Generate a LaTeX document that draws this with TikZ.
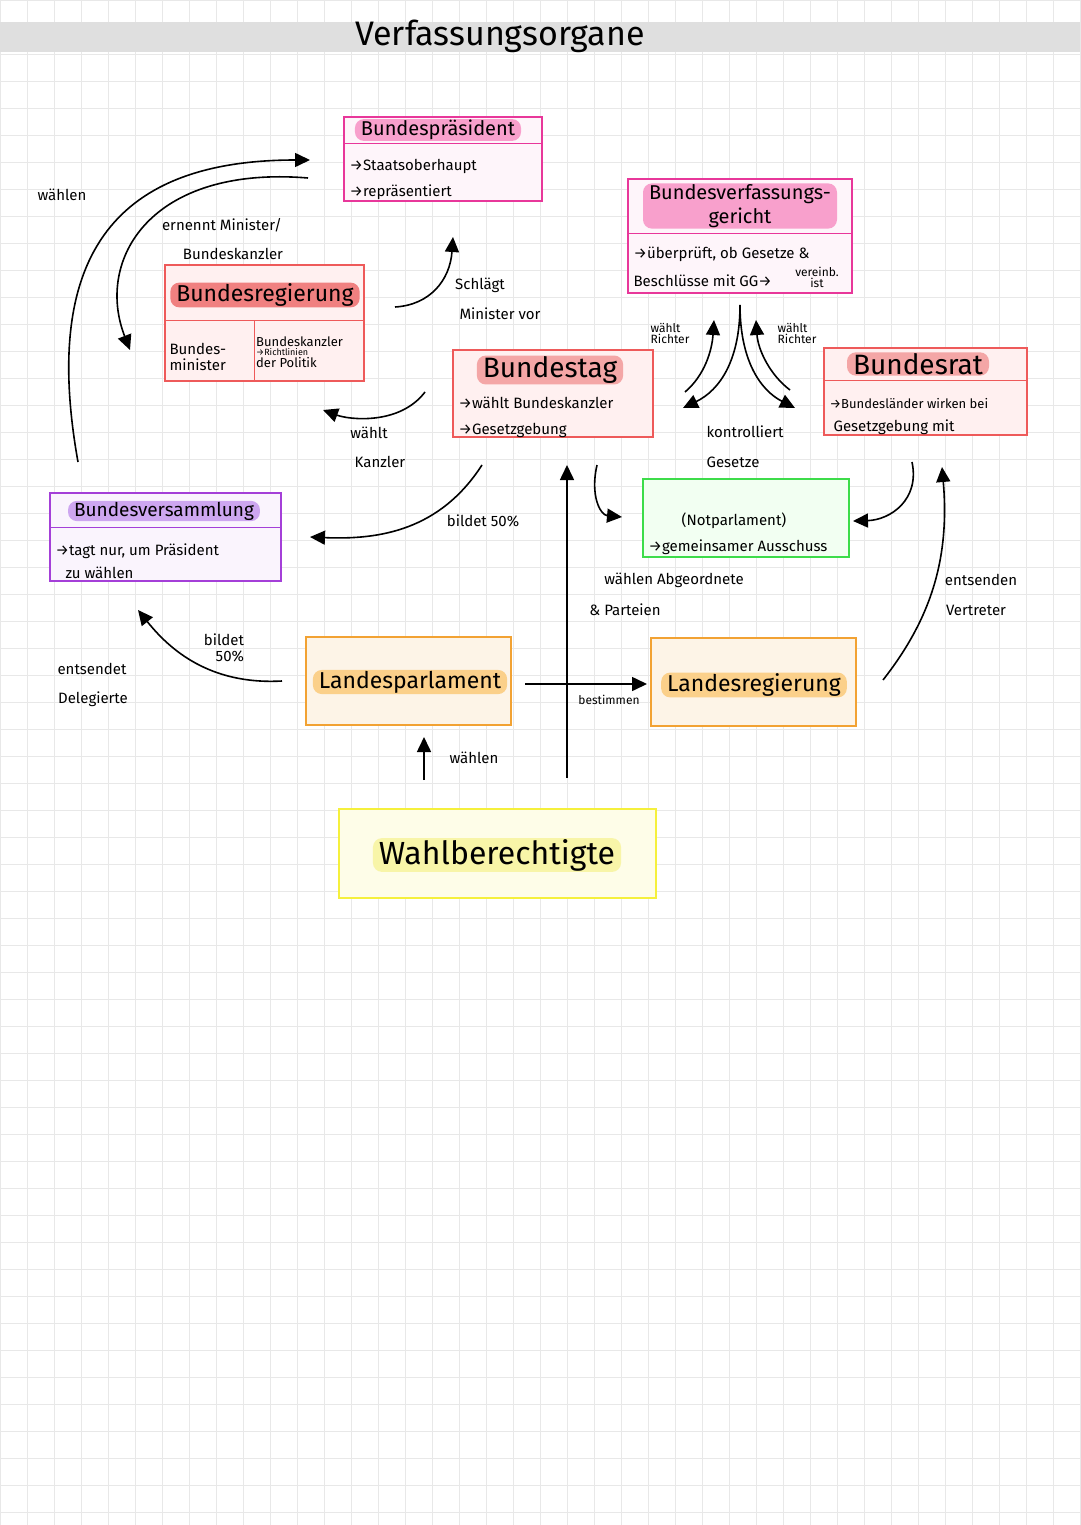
\documentclass[tikz,border=0pt]{standalone}
\usepackage{fontspec}
\setmainfont{Fira Sans}
\usetikzlibrary{arrows.meta}
\definecolor{mag}{HTML}{E8379A}
\definecolor{pinkhl}{HTML}{F8A0CC}
\definecolor{redb}{HTML}{EE5A5A}
\definecolor{redhl}{HTML}{F08080}
\definecolor{purb}{HTML}{A43FD8}
\definecolor{purhl}{HTML}{CDA6F0}
\definecolor{grb}{HTML}{3DDC4A}
\definecolor{orb}{HTML}{F2A233}
\definecolor{orhl}{HTML}{FBD08A}
\definecolor{yeb}{HTML}{F5F03C}
\definecolor{yehl}{HTML}{F8F5A8}
\begin{document}
\begin{tikzpicture}[x=1pt,y=-1pt,
  hd/.style={fill=#1,rounded corners=9pt,inner xsep=6pt,inner ysep=1pt,font=\fontsize{20}{20}\selectfont},
  t/.style={font=\fontsize{15}{16}\selectfont},
  ts/.style={font=\fontsize{12}{11}\selectfont},
  ar/.style={-{Triangle[length=15pt,width=14pt]},line width=1.6pt}]
\useasboundingbox (0,0) rectangle (1080,1525);
\fill[white] (0,0) rectangle (1080,1525);
\foreach \i in {0,...,40}{\draw[gray!18,line width=0.5pt] (\i*27,0) -- (\i*27,1525);}
\foreach \j in {0,...,57}{\draw[gray!18,line width=0.5pt] (0,\j*27) -- (1080,\j*27);}
\fill[gray!25] (0,22) rectangle (1080,52);
\node[font=\fontsize{34}{34}\selectfont] (title) at (500,36) {Verfassungsorgane};

% Bundespraesident
\fill[mag!5] (344,117) rectangle (542,201);
\draw[mag,line width=1.3pt] (344,117) rectangle (542,201); \draw[mag] (344,143)--(542,143);
\node[hd=pinkhl] (bp) at (438,130) {Bundespräsident};
\node[t,anchor=west] (bp1) at (346,166) {→Staatsoberhaupt};
\node[t,anchor=west] (bp2) at (346,192) {→repräsentiert};

% BVerfG
\fill[mag!5] (628,179) rectangle (852,293);
\draw[mag,line width=1.3pt] (628,179) rectangle (852,293); \draw[mag] (628,233)--(852,233);
\node[hd=pinkhl,align=center,font=\fontsize{20}{24}\selectfont] (bv) at (740,206) {Bundesverfassungs-\\gericht};
\node[t,anchor=west] (bv1) at (630,254) {→überprüft, ob Gesetze \&};
\node[t,anchor=west] (bv2) at (630,281) {Beschlüsse mit GG→};
\node[ts,align=center,inner sep=0pt] (bv3) at (817,277) {vereinb.\\ist};

% Bundesregierung
\fill[red!6] (165,265) rectangle (364,381);
\draw[redb,line width=1.3pt] (165,265) rectangle (364,381); \draw[redb] (165,320)--(364,320); \draw[redb] (254,320)--(254,381);
\node[hd=redhl,font=\fontsize{23}{23}\selectfont] (br) at (265,295) {Bundesregierung};
\node[t,align=left,anchor=west] (br1) at (166,357) {Bundes-\\minister};
\node[anchor=north west,inner sep=1pt,align=left,font=\fontsize{13}{10}\selectfont] (br2) at (255,336) {Bundeskanzler\\[-1pt]{\fontsize{9}{8}\selectfont →Richtlinien}\\der Politik};

% Bundestag
\fill[red!6] (453,350) rectangle (653,437);
\draw[redb,line width=1.3pt] (453,350) rectangle (653,437);
\node[hd=redhl!70,font=\fontsize{28}{28}\selectfont] (bt) at (550,370) {Bundestag};
\node[t,anchor=west] (bt1) at (455,403) {→wählt Bundeskanzler};
\node[t,anchor=west] (bt2) at (455,430) {→Gesetzgebung};

% Bundesrat
\fill[red!6] (824,348) rectangle (1027,435);
\draw[redb,line width=1.3pt] (824,348) rectangle (1027,435); \draw[redb] (824,380)--(1027,380);
\node[hd=redhl!70,font=\fontsize{28}{28}\selectfont] (brat) at (918,364) {Bundesrat};
\node[t,anchor=west,font=\fontsize{13}{14}\selectfont] (brat1) at (826,404) {→Bundesländer wirken bei};
\node[t,anchor=west] (brat2) at (830,427) {Gesetzgebung mit};

% Notparlament
\fill[green!5] (643,479) rectangle (849,557);
\draw[grb,line width=1.3pt] (643,479) rectangle (849,557);
\node[t] (np) at (734,521) {(Notparlament)};
\node[t,anchor=west] (np1) at (645,547) {→gemeinsamer Ausschuss};

% Bundesversammlung
\fill[purb!6] (50,493) rectangle (281,581);
\draw[purb,line width=1.3pt] (50,493) rectangle (281,581); \draw[purb] (50,527)--(281,527);
\node[hd=purhl,font=\fontsize{19}{19}\selectfont] (bvs) at (164,511) {Bundesversammlung};
\node[t,anchor=west] (bvs1) at (52,551) {→tagt nur, um Präsident};
\node[t,anchor=west] (bvs2) at (62,573) {zu wählen};

% Landesparlament / Landesregierung / Wahlberechtigte
\draw[orb,line width=1.3pt,fill=orb!12] (306,637) rectangle (511,725);
\node[hd=orhl,font=\fontsize{23}{23}\selectfont] (lp) at (410,682) {Landesparlament};
\draw[orb,line width=1.3pt,fill=orb!12] (651,638) rectangle (856,726);
\node[hd=orhl,font=\fontsize{23}{23}\selectfont] (lr) at (754,685) {Landesregierung};
\draw[yeb,line width=1.3pt,fill=yeb!12] (339,809) rectangle (656,898);
\node[hd=yehl,font=\fontsize{32}{32}\selectfont] (wb) at (497,855) {Wahlberechtigte};

% coordinates
\coordinate (a1) at (78,462); \coordinate (a2) at (310,160);
\coordinate (b1) at (308,178); \coordinate (b2) at (130,350);
\coordinate (c1) at (395,307); \coordinate (c2) at (453,237);
\coordinate (d1) at (425,392); \coordinate (d2) at (323,410);
\coordinate (e1) at (482,465); \coordinate (e2) at (310,537);
\coordinate (f1) at (597,465); \coordinate (f2) at (622,517);
\coordinate (g1) at (912,462); \coordinate (g2) at (853,521);
\coordinate (h1) at (883,680); \coordinate (h2) at (942,467);
\coordinate (i1) at (567,778); \coordinate (i2) at (567,465);
\coordinate (j1) at (525,684); \coordinate (j2) at (647,684);
\coordinate (k1) at (424,780); \coordinate (k2) at (424,737);
\coordinate (l1) at (282,681); \coordinate (l2) at (138,610);
\coordinate (m0) at (740,305); \coordinate (m1) at (683,408); \coordinate (m2) at (795,408);
\coordinate (n1) at (685,392); \coordinate (n2) at (714,320);
\coordinate (o1) at (790,390); \coordinate (o2) at (756,320);

\draw[ar] (a1) .. controls (40,250) and (120,160) .. (a2);
\draw[ar] (b1) .. controls (150,165) and (95,260) .. (b2);
\draw[ar] (c1) .. controls (430,305) and (450,280) .. (c2);
\draw[ar] (d1) .. controls (400,425) and (350,420) .. (d2);
\draw[ar] (e1) .. controls (440,530) and (380,540) .. (e2);
\draw[ar] (f1) .. controls (590,495) and (600,515) .. (f2);
\draw[ar] (g1) .. controls (920,500) and (890,520) .. (g2);
\draw[ar] (h1) .. controls (930,620) and (950,560) .. (h2);
\draw[ar] (i1) -- (i2);
\draw[ar] (j1) -- (j2);
\draw[ar] (k1) -- (k2);
\draw[ar] (l1) .. controls (210,685) and (170,650) .. (l2);
\draw[ar] (m0) .. controls (740,360) and (720,390) .. (m1);
\draw[ar] (m0) .. controls (740,360) and (760,390) .. (m2);
\draw[ar] (n1) .. controls (705,375) and (712,350) .. (n2);
\draw[ar] (o1) .. controls (770,375) and (758,350) .. (o2);

% labels
\node[t] (la) at (62,195) {wählen};
\node[t] (lb1) at (222,225) {ernennt Minister/};
\node[t] (lb2) at (233,254) {Bundeskanzler};
\node[t] (lc1) at (480,285) {Schlägt};
\node[t] (lc2) at (500,314) {Minister vor};
\node[t] (ld1) at (369,433) {wählt};
\node[t] (ld2) at (380,462) {Kanzler};
\node[t] (le) at (483,521) {bildet 50\%};
\node[t] (lh1) at (981,580) {entsenden};
\node[t] (lh2) at (976,610) {Vertreter};
\node[t] (li1) at (674,580) {wählen Abgeordnete};
\node[t] (li2) at (625,610) {\& Parteien};
\node[font=\fontsize{12}{12}\selectfont] (lj) at (609,700) {bestimmen};
\node[t] (lk) at (474,758) {wählen};
\node[t,align=right] (ll) at (224,648) {bildet\\50\%};
\node[t] (lm1) at (92,669) {entsendet};
\node[t] (lm2) at (93,699) {Delegierte};
\node[ts,align=left] (ln) at (670,333) {wählt\\Richter};
\node[ts,align=left] (lo) at (797,333) {wählt\\Richter};
\node[t] (lp1) at (745,432) {kontrolliert};
\node[t] (lp2) at (733,462) {Gesetze};
\end{tikzpicture}
\end{document}
